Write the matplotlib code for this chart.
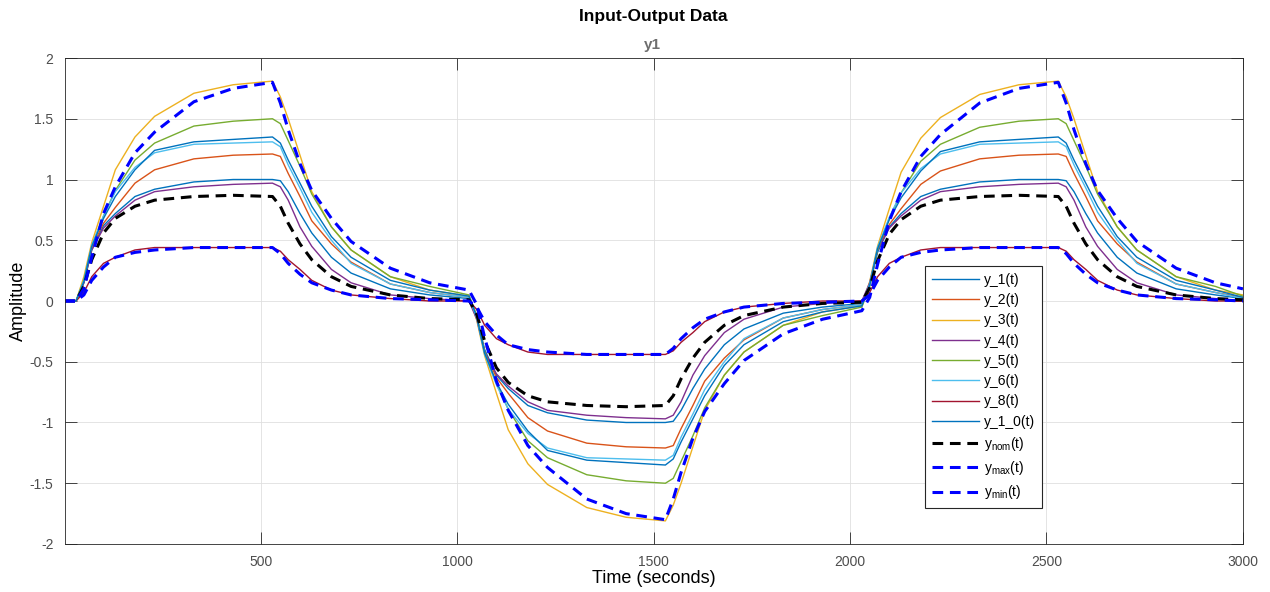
import matplotlib
matplotlib.use('Agg')
import matplotlib.pyplot as plt

plt.rcParams['font.family'] = ['Liberation Sans', 'DejaVu Sans']
plt.rcParams['mathtext.default'] = 'regular'

# time grid (seconds): input switches at 30, 530, 1030, 1530, 2030, 2530
t = [0,
     30, 50, 70, 100, 130, 180, 230, 330, 430,
     530, 550, 570, 600, 630, 680, 730, 830, 930,
     1030, 1050, 1070, 1100, 1130, 1180, 1230, 1330, 1430,
     1530, 1550, 1570, 1600, 1630, 1680, 1730, 1830, 1930,
     2030, 2050, 2070, 2100, 2130, 2180, 2230, 2330, 2430,
     2530, 2550, 2570, 2600, 2630, 2680, 2730, 2830, 2930,
     3000]

# values
y_1 = [0,
       0, 0.15, 0.42, 0.62, 0.72, 0.86, 0.92, 0.98, 1.00,
       1.00, 0.99, 0.90, 0.72, 0.56, 0.36, 0.23, 0.10, 0.05,
       0.02, -0.13, -0.40, -0.61, -0.72, -0.86, -0.92, -0.98, -1.00,
       -1.00, -0.99, -0.90, -0.72, -0.56, -0.36, -0.23, -0.10, -0.05,
       -0.02, 0.13, 0.40, 0.61, 0.72, 0.86, 0.92, 0.98, 1.00,
       1.00, 0.99, 0.90, 0.72, 0.56, 0.36, 0.23, 0.10, 0.05,
       0.02]
y_2 = [0,
       0, 0.16, 0.44, 0.64, 0.77, 0.97, 1.08, 1.17, 1.20,
       1.21, 1.19, 1.05, 0.86, 0.66, 0.47, 0.32, 0.14, 0.07,
       0.03, -0.13, -0.42, -0.63, -0.76, -0.96, -1.07, -1.17, -1.20,
       -1.21, -1.19, -1.05, -0.86, -0.66, -0.47, -0.32, -0.14, -0.07,
       -0.03, 0.13, 0.42, 0.63, 0.76, 0.96, 1.07, 1.17, 1.20,
       1.21, 1.19, 1.05, 0.86, 0.66, 0.47, 0.32, 0.14, 0.07,
       0.03]
y_3 = [0,
       0, 0.20, 0.48, 0.78, 1.08, 1.35, 1.52, 1.71, 1.78,
       1.81, 1.68, 1.50, 1.20, 0.90, 0.61, 0.42, 0.20, 0.09,
       0.04, -0.16, -0.45, -0.76, -1.06, -1.34, -1.51, -1.70, -1.78,
       -1.81, -1.68, -1.50, -1.20, -0.90, -0.61, -0.42, -0.20, -0.09,
       -0.04, 0.16, 0.45, 0.76, 1.06, 1.34, 1.51, 1.70, 1.78,
       1.81, 1.68, 1.50, 1.20, 0.90, 0.61, 0.42, 0.20, 0.09,
       0.05]
y_4 = [0,
       0, 0.15, 0.42, 0.60, 0.70, 0.83, 0.90, 0.94, 0.96,
       0.97, 0.94, 0.83, 0.61, 0.45, 0.26, 0.15, 0.05, 0.02,
       0.00, -0.15, -0.42, -0.60, -0.70, -0.83, -0.90, -0.94, -0.96,
       -0.97, -0.94, -0.83, -0.61, -0.45, -0.26, -0.15, -0.05, -0.02,
       0.00, 0.15, 0.42, 0.60, 0.70, 0.83, 0.90, 0.94, 0.96,
       0.97, 0.94, 0.83, 0.61, 0.45, 0.26, 0.15, 0.05, 0.02,
       0.00]
y_5 = [0,
       0, 0.17, 0.45, 0.70, 0.91, 1.16, 1.30, 1.44, 1.48,
       1.50, 1.46, 1.32, 1.11, 0.88, 0.61, 0.42, 0.20, 0.12,
       0.05, -0.12, -0.42, -0.68, -0.89, -1.15, -1.29, -1.43, -1.48,
       -1.50, -1.46, -1.32, -1.11, -0.88, -0.61, -0.42, -0.20, -0.12,
       -0.05, 0.12, 0.42, 0.68, 0.89, 1.15, 1.29, 1.43, 1.48,
       1.50, 1.46, 1.32, 1.11, 0.88, 0.61, 0.42, 0.20, 0.12,
       0.04]
y_6 = [0,
       0, 0.17, 0.46, 0.70, 0.90, 1.10, 1.22, 1.29, 1.30,
       1.31, 1.27, 1.12, 0.93, 0.73, 0.50, 0.31, 0.14, 0.07,
       0.03, -0.14, -0.44, -0.69, -0.89, -1.09, -1.21, -1.29, -1.30,
       -1.31, -1.27, -1.12, -0.93, -0.73, -0.50, -0.31, -0.14, -0.07,
       -0.03, 0.14, 0.44, 0.69, 0.89, 1.09, 1.21, 1.29, 1.30,
       1.31, 1.27, 1.12, 0.93, 0.73, 0.50, 0.31, 0.14, 0.07,
       0.02]
y_8 = [0,
       0, 0.07, 0.20, 0.31, 0.36, 0.42, 0.44, 0.44, 0.44,
       0.44, 0.41, 0.34, 0.26, 0.17, 0.09, 0.05, 0.02, 0.00,
       0.00, -0.07, -0.20, -0.31, -0.36, -0.42, -0.44, -0.44, -0.44,
       -0.44, -0.41, -0.34, -0.26, -0.17, -0.09, -0.05, -0.02, 0.00,
       0.00, 0.07, 0.20, 0.31, 0.36, 0.42, 0.44, 0.44, 0.44,
       0.44, 0.41, 0.34, 0.26, 0.17, 0.09, 0.05, 0.02, 0.00,
       0.00]
y_1_0 = [0,
         0, 0.16, 0.45, 0.68, 0.86, 1.08, 1.24, 1.31, 1.33,
         1.35, 1.30, 1.16, 0.97, 0.78, 0.53, 0.36, 0.17, 0.09,
         0.04, -0.13, -0.43, -0.67, -0.85, -1.07, -1.23, -1.31, -1.33,
         -1.35, -1.30, -1.16, -0.97, -0.78, -0.53, -0.36, -0.17, -0.09,
         -0.04, 0.13, 0.43, 0.67, 0.85, 1.07, 1.23, 1.31, 1.33,
         1.35, 1.30, 1.16, 0.97, 0.78, 0.53, 0.36, 0.17, 0.09,
         0.03]
y_nom = [0,
         0, 0.12, 0.34, 0.56, 0.68, 0.78, 0.83, 0.86, 0.87,
         0.86, 0.78, 0.64, 0.47, 0.34, 0.20, 0.12, 0.05, 0.02,
         0.01, -0.11, -0.33, -0.55, -0.67, -0.78, -0.83, -0.86, -0.87,
         -0.86, -0.78, -0.64, -0.47, -0.34, -0.20, -0.12, -0.05, -0.02,
         -0.01, 0.11, 0.33, 0.55, 0.67, 0.78, 0.83, 0.86, 0.87,
         0.86, 0.78, 0.64, 0.47, 0.34, 0.20, 0.12, 0.05, 0.02,
         0.01]
y_max = [0,
         0, 0.10, 0.36, 0.72, 0.94, 1.22, 1.39, 1.64, 1.75,
         1.80, 1.63, 1.41, 1.13, 0.91, 0.68, 0.49, 0.27, 0.15,
         0.09, -0.03, -0.30, -0.66, -0.90, -1.19, -1.37, -1.63, -1.75,
         -1.80, -1.63, -1.41, -1.13, -0.91, -0.68, -0.49, -0.27, -0.15,
         -0.08, 0.03, 0.30, 0.66, 0.90, 1.19, 1.37, 1.63, 1.75,
         1.80, 1.63, 1.41, 1.13, 0.91, 0.68, 0.49, 0.27, 0.15,
         0.10]
y_min = [0,
         0, 0.05, 0.17, 0.28, 0.36, 0.40, 0.42, 0.44, 0.44,
         0.44, 0.39, 0.31, 0.22, 0.15, 0.09, 0.05, 0.02, 0.01,
         0.00, -0.05, -0.17, -0.28, -0.36, -0.40, -0.42, -0.44, -0.44,
         -0.44, -0.39, -0.31, -0.22, -0.15, -0.09, -0.05, -0.02, -0.01,
         0.00, 0.05, 0.17, 0.28, 0.36, 0.40, 0.42, 0.44, 0.44,
         0.44, 0.39, 0.31, 0.22, 0.15, 0.09, 0.05, 0.02, 0.01,
         0.00]

medidas = [(y_1, '#0072BD', 'y_1(t)'),
           (y_2, '#D95319', 'y_2(t)'),
           (y_3, '#EDB120', 'y_3(t)'),
           (y_4, '#7E2F8E', 'y_4(t)'),
           (y_5, '#77AC30', 'y_5(t)'),
           (y_6, '#4DBEEE', 'y_6(t)'),
           (y_8, '#A2142F', 'y_8(t)'),
           (y_1_0, '#0072BD', 'y_1_0(t)')]

fig = plt.figure(figsize=(12.7, 5.92), dpi=100)
ax = fig.add_axes([0.0509, 0.0811, 0.9278, 0.8209])

for datos, color, nombre in medidas:
    ax.plot(t, datos, color=color, linewidth=1.0, label=nombre)

ax.plot(t, y_nom, color='black', linewidth=2.2, dashes=(3.5, 2.2), label=r'y$_{nom}$(t)')
ax.plot(t, y_max, color='blue', linewidth=2.2, dashes=(3.5, 2.2), label=r'y$_{max}$(t)')
ax.plot(t, y_min, color='blue', linewidth=2.2, dashes=(3.5, 2.2), label=r'y$_{min}$(t)')

ax.set_xlim(1, 3000)
ax.set_ylim(-2, 2)
ax.set_xticks([500, 1000, 1500, 2000, 2500, 3000])
ax.set_yticks([-2, -1.5, -1, -0.5, 0, 0.5, 1, 1.5, 2])
ax.set_yticklabels(['-2', '-1.5', '-1', '-0.5', '0', '0.5', '1', '1.5', '2'])
ax.tick_params(direction='in', length=8.5, width=0.6, top=True, right=True,
               labelsize=10, labelcolor='#4D4D4D', color='#262626', pad=8)
for s in ax.spines.values():
    s.set_color('#262626')
    s.set_linewidth(0.6)
ax.grid(True, color='#DFDFDF', linewidth=0.6)
ax.set_axisbelow(True)

ax.set_xlabel('Time (seconds)', fontsize=13, labelpad=1)
ax.set_ylabel('Amplitude', fontsize=13, labelpad=2)

fig.text(0.514, 1 - 17 / 592, 'Input-Output Data', ha='center', va='center',
         fontsize=12.5, fontweight='bold')
fig.text(0.514, 1 - 45 / 592, 'y1', ha='center', va='center',
         fontsize=11, fontweight='bold', color='#6E6E6E')

leg = ax.legend(loc='upper left', bbox_to_anchor=(0.730, 0.572), fontsize=10,
                frameon=True, fancybox=False, framealpha=1, edgecolor='#262626',
                handlelength=3.4, handletextpad=0.35, labelspacing=0.45,
                borderpad=0.5, borderaxespad=0)
leg.get_frame().set_linewidth(0.8)

fig.savefig('out.png', dpi=100)
